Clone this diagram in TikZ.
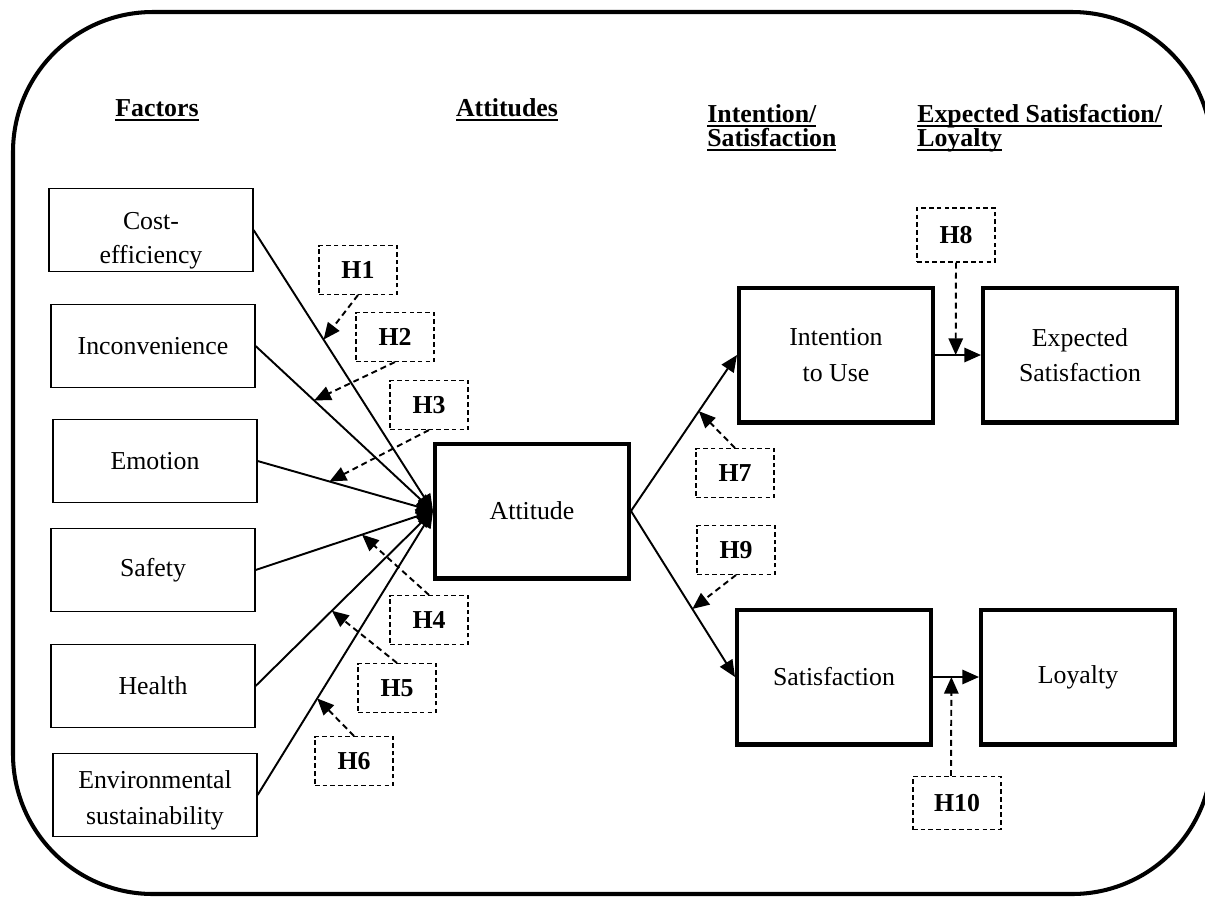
\documentclass[tikz,border=0pt]{standalone}
\usepackage{fontspec}
\setmainfont{Liberation Serif}
\usepackage{tikz}
\usetikzlibrary{arrows.meta, calc, positioning}

\newcommand{\ulhead}[1]{\setbox0\hbox{#1}\rlap{\usebox0}\rule[-2.6pt]{\wd0}{1.1pt}}
\newcommand{\lowline}[2]{\raisebox{-#1}[\height][\depth]{#2}}

\tikzset{
    factor/.style={draw, line width=0.7pt, minimum width=4.08cm, minimum height=1.66cm, align=center, font=\fontsize{14.7}{19}\selectfont},
    construct/.style={draw, line width=2.3pt, minimum width=3.88cm, minimum height=2.7cm, align=center, font=\fontsize{14.7}{20}\selectfont},
    hyp/.style={draw, line width=0.6pt, dash pattern=on 2.6pt off 1.8pt, minimum width=1.56cm, minimum height=0.98cm, font=\fontsize{14.7}{19}\selectfont\bfseries},
    heading/.style={align=left, inner sep=0pt, font=\fontsize{14.7}{13.8}\selectfont\bfseries},
    link/.style={line width=1.1pt, -{Triangle[length=9.5pt, width=8.2pt]}},
    effect/.style={link, dash pattern=on 3.4pt off 2.3pt}
}

\begin{document}
\begin{tikzpicture}[x=0.02cm, y=-0.02cm]
                        \useasboundingbox (0, 0) rectangle (1205, 897);
                        \draw[line width=2.3pt, rounded corners=2.8cm] (13, 12) rectangle (1212, 894);

                        \node[heading] (hfac) at (157, 110) {\ulhead{Factors}};
                        \node[heading] (hatt) at (507, 110) {\ulhead{Attitudes}};
                        \node[heading, anchor=north west] (hint) at (707, 104) {\ulhead{Intention/}\\\ulhead{Satisfaction}};
                        \node[heading, anchor=north west] (hexp) at (917, 104) {\ulhead{Expected Satisfaction/}\\\ulhead{Loyalty}};

                        \node[factor] (ce) at (151, 230) {\lowline{6pt}{Cost-}\\\lowline{6pt}{efficiency}};
                        \node[factor] (inc) at (153, 346) {Inconvenience};
                        \node[factor] (emo) at (155, 461) {Emotion};
                        \node[factor] (saf) at (153, 570) {Safety};
                        \node[factor] (hea) at (153, 686) {Health};
                        \node[factor] (env) at (155, 795) {\lowline{2pt}{Environmental}\\\lowline{4pt}{sustainability}};

                        \node[construct] (att) at (532, 511) {Attitude};
                        \node[construct] (int) at (836, 355) {Intention\\to Use};
                        \node[construct] (exp) at (1080, 355) {Expected\\Satisfaction};
                        \node[construct] (sat) at (834, 677) {Satisfaction};
                        \node[construct] (loy) at (1078, 677) {Loyalty};

                        \node[hyp] (h1) at (358, 270) {H1};
                        \node[hyp] (h2) at (395, 337) {H2};
                        \node[hyp] (h3) at (429, 405) {H3};
                        \node[hyp] (h4) at (429, 620) {H4};
                        \node[hyp] (h5) at (397, 688) {H5};
                        \node[hyp] (h6) at (354, 761) {H6};
                        \node[hyp] (h7) at (735, 473) {H7};
                        \node[hyp, minimum height=1.08cm] (h8) at (956, 235) {H8};
                        \node[hyp] (h9) at (736, 550) {H9};
                        \node[hyp, minimum width=1.76cm, minimum height=1.06cm] (h10) at (957, 803) {H10};

                        \draw
                        (ce.east) edge[link] (att.west)
                        (inc.east) edge[link] (att.west)
                        (emo.east) edge[link] (att.west)
                        (saf.east) edge[link] (att.west)
                        (hea.east) edge[link] (att.west)
                        (env.east) edge[link] (att.west)

                        (att.east) edge[link] (int.west)
                        (att.east) edge[link] (sat.west)
                        (int.east) edge[link] (exp.west)
                        (sat.east) edge[link] (loy.west)

                        (h1.south) edge[effect] ($(ce.east)!0.39!(att.west)$)
                        (h2.south) edge[effect] ($(inc.east)!0.33!(att.west)$)
                        (h3.south) edge[effect] ($(emo.east)!0.41!(att.west)$)
                        (h4.north) edge[effect] ($(saf.east)!0.6!(att.west)$)
                        (h5.north) edge[effect] ($(hea.east)!0.43!(att.west)$)
                        (h6.north) edge[effect] ($(env.east)!0.34!(att.west)$)
                        (h7.north) edge[effect] ($(att.east)!0.64!(int.west)$)
                        (h8.south) edge[effect] ($(int.east)!0.45!(exp.west)$)
                        (h9.south) edge[effect] ($(att.east)!0.59!(sat.west)$)
                        ([xshift=-0.12cm]h10.north) edge[effect] ($(sat.east)!0.4!(loy.west)$);
                    \end{tikzpicture}
\end{document}
